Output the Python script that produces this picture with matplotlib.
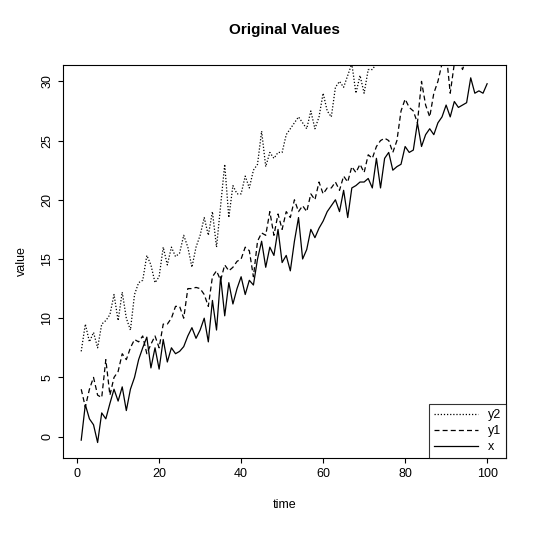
import numpy as np
import matplotlib.pyplot as plt

time = np.arange(1, 101)

x = [-0.3, 2.7, 1.5, 1.0, -0.5, 2.0, 1.5, 2.8, 4.0, 3.0, 4.2, 2.2, 4.0, 5.0, 6.5, 7.5, 8.4, 5.8, 7.5, 5.7,
     8.2, 6.3, 7.5, 7.0, 7.2, 7.6, 8.5, 9.2, 8.3, 9.0, 10.0, 8.0, 11.5, 9.0, 13.5, 10.2, 13.0, 11.2, 12.5, 13.5,
     12.0, 13.2, 12.8, 15.0, 16.5, 14.3, 16.0, 15.3, 17.5, 14.7, 15.3, 14.0, 16.5, 18.5, 15.0, 15.8, 17.5, 16.8, 17.6, 18.2,
     19.0, 19.5, 20.0, 19.0, 20.8, 18.5, 21.0, 21.2, 21.5, 21.5, 21.8, 21.0, 23.5, 21.0, 23.5, 24.0, 22.5, 22.8, 23.0, 24.5,
     24.0, 24.2, 26.5, 24.5, 25.5, 26.0, 25.5, 26.5, 27.0, 28.0, 27.0, 28.3, 27.8, 28.0, 28.2, 30.3, 29.0, 29.2, 29.0, 29.8]

y1 = [4.0, 2.5, 4.0, 5.0, 3.5, 3.3, 6.5, 3.5, 5.0, 5.5, 7.0, 6.5, 7.5, 8.2, 8.0, 8.5, 7.0, 7.8, 8.5, 7.5,
      9.5, 9.5, 10.0, 11.0, 11.0, 10.0, 12.5, 12.5, 12.6, 12.5, 12.0, 11.0, 13.5, 14.0, 13.2, 14.5, 14.0, 14.3, 14.8, 15.0,
      16.0, 15.7, 13.5, 16.5, 17.2, 17.0, 19.0, 17.0, 18.8, 17.5, 19.0, 18.5, 20.0, 19.0, 19.5, 19.0, 20.5, 20.0, 21.5, 20.5,
      21.0, 21.0, 21.5, 20.8, 22.0, 21.5, 22.8, 22.3, 23.0, 22.3, 23.8, 23.5, 24.5, 25.0, 25.2, 25.0, 24.0, 25.0, 27.5, 28.5,
      27.8, 27.5, 26.5, 30.0, 28.0, 27.0, 29.0, 30.0, 31.5, 32.5, 29.0, 31.5, 32.0, 31.0, 32.0, 33.0, 32.5, 33.5, 33.0, 34.0]

y2 = [7.2, 9.5, 8.0, 8.8, 7.5, 9.5, 9.8, 10.3, 12.0, 9.8, 12.2, 10.0, 9.0, 12.0, 13.0, 13.2, 15.3, 14.5, 13.0, 13.5,
      16.0, 14.5, 16.0, 15.2, 15.5, 17.0, 16.0, 14.3, 16.0, 17.0, 18.5, 17.0, 19.0, 16.0, 19.5, 23.0, 18.5, 21.2, 20.5, 20.5,
      22.0, 21.0, 22.5, 23.0, 25.8, 22.8, 24.0, 23.5, 24.0, 24.0, 25.5, 26.0, 26.5, 27.0, 26.5, 26.0, 27.5, 26.0, 27.0, 29.0,
      27.5, 27.0, 29.5, 30.0, 29.5, 30.5, 31.5, 29.0, 30.5, 29.0, 31.0, 31.0, 31.5, 32.0, 33.0, 34.0, 33.5, 35.0, 34.5, 36.0,
      35.5, 36.5, 37.0, 36.0, 38.0, 37.5, 38.5, 39.0, 38.5, 40.0, 39.5, 40.5, 41.0, 40.5, 42.0, 41.5, 42.5, 43.0, 42.5, 44.0]

plt.rcParams['font.family'] = ['Liberation Sans', 'DejaVu Sans']
fig = plt.figure(figsize=(5.4, 5.4), dpi=100)
ax = fig.add_axes([0.117, 0.152, 0.82, 0.728])
ax.plot(time, y2, color='black', lw=0.9, ls=(0, (1, 1.5)), label='y2')
ax.plot(time, y1, color='black', lw=0.9, ls=(0, (4, 2.5)), label='y1')
ax.plot(time, x, color='black', lw=0.9, label='x')
ax.set_xlim(-3.4, 104.6)
ax.set_ylim(-1.8, 31.4)
ax.set_xticks([0, 20, 40, 60, 80, 100])
ax.set_yticks([0, 5, 10, 15, 20, 25, 30])
ax.tick_params(axis='y', labelrotation=90)
ax.tick_params(labelsize=9)
for lab in ax.get_yticklabels():
    lab.set_va('center')
ax.set_xlabel('time', fontsize=9, labelpad=14)
ax.set_ylabel('value', fontsize=9, labelpad=10)
ax.set_title('Original Values', fontsize=11, fontweight='bold', pad=22)
leg = ax.legend(loc='lower right', fontsize=9, frameon=True, fancybox=False,
                edgecolor='black', borderaxespad=0, handlelength=3.5, labelspacing=0.3)
leg.get_frame().set_linewidth(0.8)
fig.savefig('out.png', dpi=100)
